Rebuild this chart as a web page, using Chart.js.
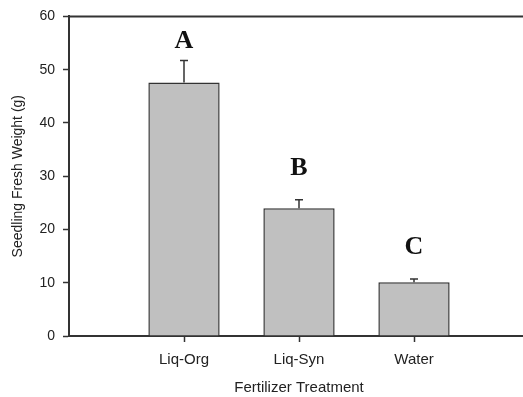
<!DOCTYPE html>
<html>
<head>
<meta charset="utf-8">
<script src="https://cdn.jsdelivr.net/npm/chart.js@4/dist/chart.umd.min.js"></script>
<style>
  html, body { margin: 0; padding: 0; overflow: hidden; background: #fff; }
  #wrap { width: 529px; height: 397px; }
</style>
</head>
<body>
<div id="wrap"><canvas id="chart" style="width:529px;height:397px"></canvas></div>
<script>
const treatments = ["Liq-Org", "Liq-Syn", "Water"]
const weights = [47.6, 24.0, 10.1]
const errors = [4.1, 1.6, 0.6]
const groupLetters = ["A", "B", "C"]
const letterLevels = [55.3, 31.5, 16.7]
const yTicks = [0, 10, 20, 30, 40, 50, 60]

// blank slots on each side so the bars sit at 1/4, 2/4, 3/4 of the axis
const labels = ["", ...treatments, ""]
const values = [null, ...weights, null]

const axisColor = "#333"
const textColor = "#222"
const sans = "'Liberation Sans', Arial, sans-serif"

const extras = {
  id: "extras",
  afterDatasetsDraw(chart) {
    const { ctx, chartArea, scales } = chart
    const x = scales.x
    const y = scales.y
    ctx.save()

    // top frame line
    ctx.strokeStyle = axisColor
    ctx.lineWidth = 2
    ctx.beginPath()
    ctx.moveTo(chartArea.left - 1, chartArea.top)
    ctx.lineTo(chartArea.right + 2, chartArea.top)
    ctx.stroke()

    treatments.forEach((t, i) => {
      const px = x.getPixelForValue(i + 1)
      const base = y.getPixelForValue(weights[i])
      const top = y.getPixelForValue(weights[i] + errors[i])

      ctx.lineWidth = 1.5
      ctx.beginPath()
      ctx.moveTo(px, base)
      ctx.lineTo(px, top)
      ctx.moveTo(px - 4, top)
      ctx.lineTo(px + 4, top)
      ctx.stroke()

      ctx.fillStyle = "#111"
      ctx.font = "bold 26px 'Liberation Serif', 'Times New Roman', serif"
      ctx.textAlign = "center"
      ctx.textBaseline = "middle"
      ctx.fillText(groupLetters[i], px, y.getPixelForValue(letterLevels[i]))
    })
    ctx.restore()
  }
}

new Chart(document.getElementById("chart"), {
  type: "bar",
  data: {
    labels: labels,
    datasets: [{
      data: values,
      backgroundColor: "#c0c0c0",
      borderColor: axisColor,
      borderWidth: 1.5,
      categoryPercentage: 1,
      barPercentage: 0.62
    }]
  },
  options: {
    responsive: true,
    maintainAspectRatio: false,
    animation: false,
    devicePixelRatio: 1,
    layout: { padding: { top: 16, right: 0, bottom: 0, left: 0 } },
    plugins: {
      legend: { display: false },
      tooltip: { enabled: false }
    },
    scales: {
      x: {
        offset: false,
        afterFit: scale => {
          scale.height = 61
          scale.paddingLeft = 0
          scale.paddingRight = 0
        },
        border: { display: true, color: axisColor, width: 2 },
        grid: {
          offset: false,
          drawOnChartArea: false,
          drawTicks: true,
          tickLength: 6,
          tickWidth: 1.5,
          tickColor: c => (labels[c.index] ? axisColor : "rgba(0,0,0,0)")
        },
        ticks: {
          color: textColor,
          padding: 9,
          maxRotation: 0,
          autoSkip: false,
          font: { family: sans, size: 15 }
        },
        title: {
          display: true,
          text: "Fertilizer Treatment",
          color: textColor,
          padding: { top: 0, bottom: 0 },
          font: { family: sans, size: 15 }
        }
      },
      y: {
        min: 0,
        max: 60,
        afterFit: scale => { scale.width = 69 },
        afterBuildTicks: scale => { scale.ticks = yTicks.map(v => ({ value: v })) },
        border: { display: true, color: axisColor, width: 2 },
        grid: {
          drawOnChartArea: false,
          drawTicks: true,
          tickLength: 6,
          tickWidth: 1.5,
          tickColor: axisColor
        },
        ticks: {
          color: textColor,
          padding: 8,
          font: { family: sans, size: 14 }
        },
        title: {
          display: true,
          text: "Seedling Fresh Weight (g)",
          color: textColor,
          padding: { top: 10, bottom: 0 },
          font: { family: sans, size: 14 }
        }
      }
    }
  },
  plugins: [extras]
})
</script>
</body>
</html>
